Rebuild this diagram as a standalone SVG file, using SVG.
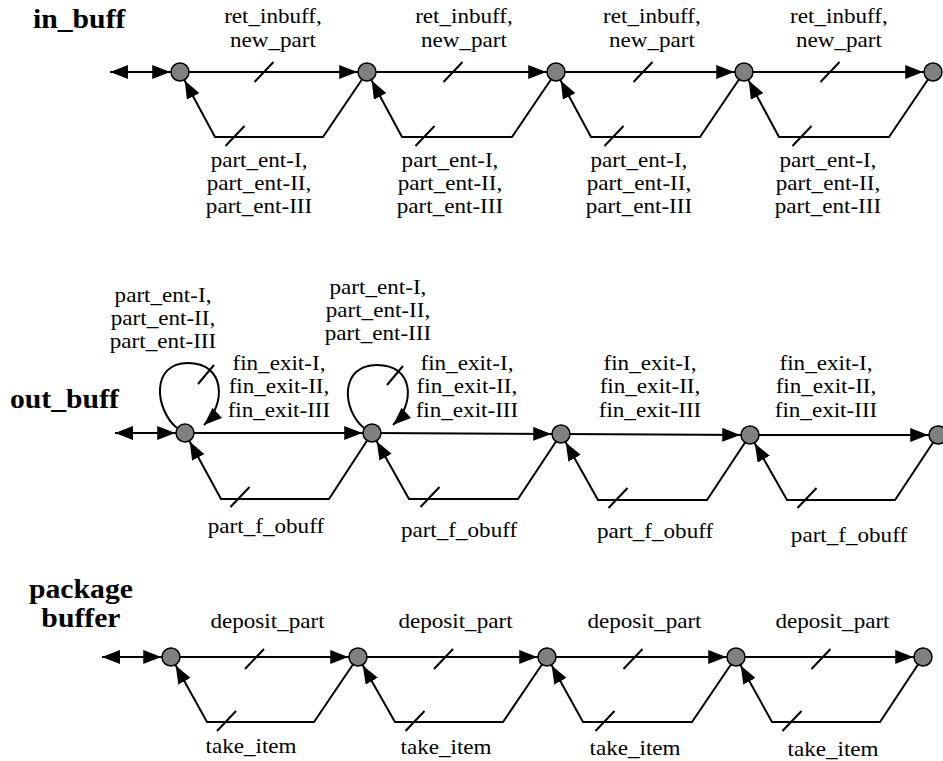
<svg xmlns="http://www.w3.org/2000/svg" width="943" height="761" viewBox="0 0 943 761">
  <style>
    .edge { fill: none; stroke: #000; stroke-width: 2; }
    .tick { fill: none; stroke: #000; stroke-width: 2; }
    .state { fill: #808080; stroke: #000; stroke-width: 1.5; }
    .lbl { font-family: "Liberation Serif", serif; font-size: 21px; fill: #000; text-anchor: middle; }
    .title { font-family: "Liberation Serif", serif; font-size: 27px; font-weight: bold; fill: #000; }
  </style>
  <defs>
    <!-- arrowhead whose tip sits on the path end -->
    <marker id="arr" markerUnits="userSpaceOnUse" markerWidth="18" markerHeight="14" refX="18" refY="7" orient="auto-start-reverse">
      <path d="M0,0 L18,7 L0,14 Z" fill="#000"/>
    </marker>
    <!-- arrowhead pulled back to the rim of a state circle (r 9 + stroke) -->
    <marker id="arrN" markerUnits="userSpaceOnUse" markerWidth="28" markerHeight="14" refX="27.75" refY="7" orient="auto">
      <path d="M0,0 L18,7 L0,14 Z" fill="#000"/>
    </marker>
  </defs>
  <rect width="943" height="761" fill="#fff"/>

  <g id="connectors">
    <!-- in_buff -->
    <path class="edge" d="M110,72 L180,72" marker-start="url(#arr)" marker-end="url(#arrN)"/>
    <path class="edge" d="M180,72 L367,72" marker-end="url(#arrN)"/>
    <path class="edge" d="M367,72 L556,72" marker-end="url(#arrN)"/>
    <path class="edge" d="M556,72 L744,72" marker-end="url(#arrN)"/>
    <path class="edge" d="M744,72 L933,72" marker-end="url(#arrN)"/>
    <path class="edge" d="M367,72 L323,137 L215,137 L180,72" marker-end="url(#arrN)"/>
    <path class="edge" d="M556,72 L512,137 L402,137 L367,72" marker-end="url(#arrN)"/>
    <path class="edge" d="M744,72 L700,137 L591,137 L556,72" marker-end="url(#arrN)"/>
    <path class="edge" d="M933,72 L889,137 L779,137 L744,72" marker-end="url(#arrN)"/>
    <path class="tick" d="M254.5,82 L273.5,62 M443.5,82 L462.5,62 M633.5,82 L652.5,62 M820.5,82 L839.5,62"/>
    <path class="tick" d="M225.5,146 L244.5,126 M415.5,146 L434.5,126 M604.5,146 L623.5,126 M792.5,146 L811.5,126"/>

    <!-- out_buff -->
    <path class="edge" d="M115,433 L185,433" marker-start="url(#arr)" marker-end="url(#arrN)"/>
    <path class="edge" d="M185,433 L372,433" marker-end="url(#arrN)"/>
    <path class="edge" d="M372,433 L561,434" marker-end="url(#arrN)"/>
    <path class="edge" d="M561,434 L750,435" marker-end="url(#arrN)"/>
    <path class="edge" d="M750,435 L938,435" marker-end="url(#arrN)"/>
    <path class="edge" d="M372,433 L329,499 L221,499 L185,433" marker-end="url(#arrN)"/>
    <path class="edge" d="M561,434 L518,499 L409,499 L372,433" marker-end="url(#arrN)"/>
    <path class="edge" d="M750,435 L707,500 L598,500 L561,434" marker-end="url(#arrN)"/>
    <path class="edge" d="M938,435 L895,500 L787,500 L750,435" marker-end="url(#arrN)"/>
    <path class="edge" d="M177,428 C155,410 150,363 188,363 C226,363 226,405 204,425" marker-end="url(#arr)"/>
    <path class="edge" d="M364,428 C342,410 339,365 377,365 C415,365 415,405 393,425" marker-end="url(#arr)"/>
    <path class="tick" d="M198,384 L214,365 M387,385 L403,366"/>
    <path class="tick" d="M230.5,507 L249.5,487 M420.5,507 L439.5,487 M608.5,508 L627.5,488 M797.5,508 L816.5,488"/>

    <!-- package buffer -->
    <path class="edge" d="M102,657 L171,657" marker-start="url(#arr)" marker-end="url(#arrN)"/>
    <path class="edge" d="M171,657 L358,657" marker-end="url(#arrN)"/>
    <path class="edge" d="M358,657 L547,657" marker-end="url(#arrN)"/>
    <path class="edge" d="M547,657 L736,657" marker-end="url(#arrN)"/>
    <path class="edge" d="M736,657 L923,657" marker-end="url(#arrN)"/>
    <path class="edge" d="M358,657 L314,722 L207,722 L171,657" marker-end="url(#arrN)"/>
    <path class="edge" d="M547,657 L503,722 L395,722 L358,657" marker-end="url(#arrN)"/>
    <path class="edge" d="M736,657 L692,722 L583,722 L547,657" marker-end="url(#arrN)"/>
    <path class="edge" d="M923,657 L880,722 L772,722 L736,657" marker-end="url(#arrN)"/>
    <path class="tick" d="M245,669 L264,649 M434,669 L453,649 M623.5,669 L642.5,649 M811.5,669 L830.5,649"/>
    <path class="tick" d="M217,731 L236,711 M405.5,731 L424.5,711 M595.5,731 L614.5,711 M782.5,731 L801.5,711"/>
  </g>

  <!-- in_buff states -->
  <g id="in_buff-0"><circle class="state" cx="180" cy="72" r="9"/></g>
  <g id="in_buff-1"><circle class="state" cx="367" cy="72" r="9"/></g>
  <g id="in_buff-2"><circle class="state" cx="556" cy="72" r="9"/></g>
  <g id="in_buff-3"><circle class="state" cx="744" cy="72" r="9"/></g>
  <g id="in_buff-4"><circle class="state" cx="933" cy="72" r="9"/></g>

  <!-- out_buff states -->
  <g id="out_buff-0"><circle class="state" cx="185" cy="433" r="9"/></g>
  <g id="out_buff-1"><circle class="state" cx="372" cy="433" r="9"/></g>
  <g id="out_buff-2"><circle class="state" cx="561" cy="434" r="9"/></g>
  <g id="out_buff-3"><circle class="state" cx="750" cy="435" r="9"/></g>
  <g id="out_buff-4"><circle class="state" cx="938" cy="435" r="9"/></g>

  <!-- package buffer states -->
  <g id="pkg_buff-0"><circle class="state" cx="171" cy="657" r="9"/></g>
  <g id="pkg_buff-1"><circle class="state" cx="358" cy="657" r="9"/></g>
  <g id="pkg_buff-2"><circle class="state" cx="547" cy="657" r="9"/></g>
  <g id="pkg_buff-3"><circle class="state" cx="736" cy="657" r="9"/></g>
  <g id="pkg_buff-4"><circle class="state" cx="923" cy="657" r="9"/></g>

  <!-- all text is set slightly wide: x values below are divided by 1.1 -->
  <g id="labels" transform="scale(1.1 1)">
    <text class="title" x="30" y="28">in_buff</text>
    <text class="title" x="9.1" y="408">out_buff</text>
    <text class="title" x="73.6" y="598" text-anchor="middle">package</text>
    <text class="title" x="73.6" y="627" text-anchor="middle">buffer</text>

    <!-- in_buff events -->
    <text class="lbl" x="248.2" y="23">ret_inbuff,</text>
    <text class="lbl" x="248.2" y="47">new_part</text>
    <text class="lbl" x="421.8" y="23">ret_inbuff,</text>
    <text class="lbl" x="421.8" y="47">new_part</text>
    <text class="lbl" x="592.7" y="23">ret_inbuff,</text>
    <text class="lbl" x="592.7" y="47">new_part</text>
    <text class="lbl" x="762.7" y="23">ret_inbuff,</text>
    <text class="lbl" x="762.7" y="47">new_part</text>

    <text class="lbl" x="235.5" y="167">part_ent-I,</text>
    <text class="lbl" x="235.5" y="190">part_ent-II,</text>
    <text class="lbl" x="235.5" y="213">part_ent-III</text>
    <text class="lbl" x="409.1" y="167">part_ent-I,</text>
    <text class="lbl" x="409.1" y="190">part_ent-II,</text>
    <text class="lbl" x="409.1" y="213">part_ent-III</text>
    <text class="lbl" x="580.9" y="167">part_ent-I,</text>
    <text class="lbl" x="580.9" y="190">part_ent-II,</text>
    <text class="lbl" x="580.9" y="213">part_ent-III</text>
    <text class="lbl" x="752.7" y="167">part_ent-I,</text>
    <text class="lbl" x="752.7" y="190">part_ent-II,</text>
    <text class="lbl" x="752.7" y="213">part_ent-III</text>

    <!-- out_buff events -->
    <text class="lbl" x="148.2" y="302">part_ent-I,</text>
    <text class="lbl" x="148.2" y="325">part_ent-II,</text>
    <text class="lbl" x="148.2" y="348">part_ent-III</text>
    <text class="lbl" x="343.6" y="294">part_ent-I,</text>
    <text class="lbl" x="343.6" y="317">part_ent-II,</text>
    <text class="lbl" x="343.6" y="340">part_ent-III</text>

    <text class="lbl" x="253.6" y="370">fin_exit-I,</text>
    <text class="lbl" x="253.6" y="393">fin_exit-II,</text>
    <text class="lbl" x="253.6" y="417">fin_exit-III</text>
    <text class="lbl" x="424.5" y="370">fin_exit-I,</text>
    <text class="lbl" x="424.5" y="393">fin_exit-II,</text>
    <text class="lbl" x="424.5" y="417">fin_exit-III</text>
    <text class="lbl" x="590.9" y="370">fin_exit-I,</text>
    <text class="lbl" x="590.9" y="393">fin_exit-II,</text>
    <text class="lbl" x="590.9" y="417">fin_exit-III</text>
    <text class="lbl" x="750.9" y="370">fin_exit-I,</text>
    <text class="lbl" x="750.9" y="393">fin_exit-II,</text>
    <text class="lbl" x="750.9" y="417">fin_exit-III</text>

    <text class="lbl" x="241.8" y="533">part_f_obuff</text>
    <text class="lbl" x="417.3" y="537">part_f_obuff</text>
    <text class="lbl" x="595.5" y="538">part_f_obuff</text>
    <text class="lbl" x="771.8" y="542">part_f_obuff</text>

    <!-- package buffer events -->
    <text class="lbl" x="243.2" y="628">deposit_part</text>
    <text class="lbl" x="414.1" y="628">deposit_part</text>
    <text class="lbl" x="585.9" y="628">deposit_part</text>
    <text class="lbl" x="756.8" y="628">deposit_part</text>

    <text class="lbl" x="228.2" y="753">take_item</text>
    <text class="lbl" x="405.5" y="754">take_item</text>
    <text class="lbl" x="577.3" y="755">take_item</text>
    <text class="lbl" x="757.3" y="756">take_item</text>
  </g>
</svg>
